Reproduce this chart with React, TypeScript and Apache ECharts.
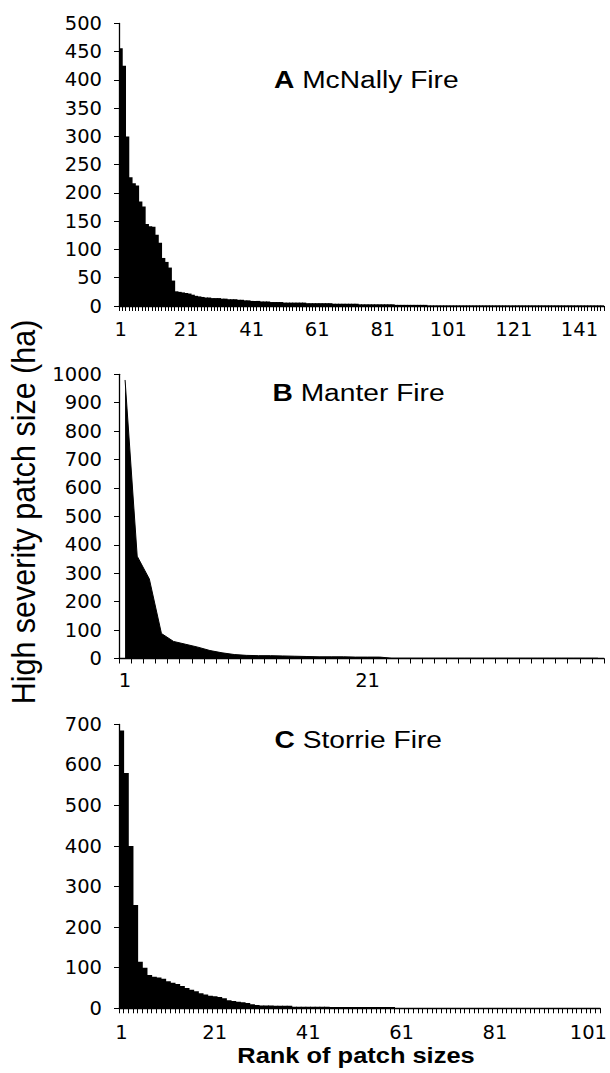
import React, { useEffect, useRef } from "react";
import * as echarts from "echarts";

// A: McNally Fire patch sizes (ha), ranked
const sizesA = [
  456, 425, 300, 228, 217, 213, 185, 176, 145, 141,
  140, 126, 112, 85, 78, 68, 45, 26, 25, 24,
  23, 22, 20, 18, 17, 16, 15, 15, 14, 14,
  14, 13, 13, 12, 12, 12, 11, 11, 10, 10,
  9, 9, 9, 8, 8, 8, 7, 7, 7, 7,
  6, 6, 6, 6, 6, 6, 6, 5, 5, 5,
  5, 5, 5, 5, 5, 4, 4, 4, 4, 4,
  4, 4, 4, 3, 3, 3, 3, 3, 3, 3,
  3, 3, 3, 3, 2, 2, 2, 2, 2, 2,
  2, 2, 2, 2, 1, 1, 1, 1, 1, 1,
  1, 1, 1, 1, 1, 1, 1, 1, 1, 1,
  1, 1, 1, 1, 1, 1, 1, 1, 1, 1,
  1, 1, 1, 1, 1, 1, 1, 1, 1, 1,
  1, 1, 1, 1, 1, 1, 1, 1, 1, 1,
  1, 1, 1, 1, 1, 1, 1, 1,
];

// B: Manter Fire patch sizes (ha), ranked
const sizesB = [
  980, 360, 280, 88, 60, 50, 40, 28, 20, 14,
  11, 10, 10, 9, 8, 7, 6, 6, 6, 5,
  5, 5, 1, 1, 1, 1, 1, 1, 1, 1,
  1, 1, 1, 1, 1, 1, 1, 1, 1, 1,
];

// C: Storrie Fire patch sizes (ha), ranked
const sizesC = [
  685, 580, 400, 255, 115, 100, 82, 78, 76, 73,
  67, 63, 60, 55, 50, 46, 42, 37, 34, 31,
  30, 28, 25, 20, 18, 16, 15, 13, 10, 8,
  7, 7, 7, 6, 6, 6, 6, 4, 4, 4,
  4, 4, 4, 4, 4, 3, 3, 3, 3, 3,
  3, 3, 3, 3, 3, 3, 3, 3, 3, 1,
  1, 1, 1, 1, 1, 1, 1, 1, 1, 1,
  1, 1, 1, 1, 1, 1, 1, 1, 1, 1,
  1, 1, 1, 1, 1, 1, 1, 1, 1, 1,
  1, 1, 1, 1, 1, 1, 1, 1, 1, 1,
  1, 1, 1,
];

const yMaxA = 500;
const yStepA = 50;
const yMaxB = 1000;
const yStepB = 100;
const yMaxC = 700;
const yStepC = 100;

const titles = ["A", "B", "C"];
const fireNames = ["McNally Fire", "Manter Fire", "Storrie Fire"];
const yTitle = "High severity patch size (ha)";
const xTitle = "Rank of patch sizes";

const ranksA = sizesA.map((_, i) => String(i + 1));
const ranksB = sizesB.map((_, i) => String(i + 1));
const ranksC = sizesC.map((_, i) => String(i + 1));

const LABEL_FONT = "DejaVu Sans";
const TEXT_FONT = "Liberation Sans";

function xAxisCfg(gridIndex: number, data: string[], margin: number) {
  return {
    type: "category",
    gridIndex,
    data,
    boundaryGap: true,
    axisLine: { show: true, lineStyle: { color: "#000", width: 1.3 } },
    axisTick: { show: true, interval: 0, length: 5, lineStyle: { color: "#000", width: 1 } },
    axisLabel: { interval: 19, color: "#000", fontFamily: LABEL_FONT, fontSize: 19.5, margin },
    splitLine: { show: false },
  };
}

function yAxisCfg(gridIndex: number, max: number, step: number) {
  return {
    type: "value",
    gridIndex,
    min: 0,
    max,
    interval: step,
    axisLine: { show: true, lineStyle: { color: "#000", width: 1.3 } },
    axisTick: { show: true, length: 5, lineStyle: { color: "#000", width: 1 } },
    axisLabel: {
      color: "#000",
      fontFamily: LABEL_FONT,
      fontSize: 19.5,
      margin: 17,
      formatter: (v: number) => String(v),
    },
    splitLine: { show: false },
  };
}

// Solid column silhouette: each bar drawn through the axes' scales,
// widened by a hair so neighbouring columns merge without seams.
function barRender(params: any, api: any) {
  const idx = api.value(0);
  const v = api.value(1);
  const top = api.coord([idx, v]);
  const base = api.coord([idx, 0]);
  const bw = api.size([1, 0])[0];
  return {
    type: "rect",
    shape: { x: top[0] - bw / 2 - 0.45, y: top[1], width: bw + 0.9, height: base[1] - top[1] },
    style: { fill: "#000" },
  };
}

function titleText(x: number, y: number, letter: string, name: string) {
  return {
    type: "text",
    x,
    y,
    scaleX: 1.15,
    style: {
      text: "{b|" + letter + " }{n|" + name + "}",
      verticalAlign: "middle",
      fill: "#000",
      rich: {
        b: { fontFamily: TEXT_FONT, fontSize: 24.5, fontWeight: "bold", fill: "#000" },
        n: { fontFamily: TEXT_FONT, fontSize: 24.5, fill: "#000" },
      },
    },
  };
}

export default function App() {
  const ref = useRef<HTMLDivElement>(null);
  useEffect(() => {
    if (!ref.current) return;
    const chart = echarts.init(ref.current, null, { renderer: "svg" });
    const L = 119;
    const W = 485;
    chart.setOption({
      animation: false,
      backgroundColor: "#fff",
      grid: [
        { left: L, width: W, top: 23.4, height: 282.6 },
        { left: L, width: W, top: 374.3, height: 284.2 },
        { left: L, width: W, top: 724.4, height: 283.9 },
      ],
      xAxis: [xAxisCfg(0, ranksA, 13), xAxisCfg(1, ranksB, 12), xAxisCfg(2, ranksC, 14)],
      yAxis: [yAxisCfg(0, yMaxA, yStepA), yAxisCfg(1, yMaxB, yStepB), yAxisCfg(2, yMaxC, yStepC)],
      series: [
        {
          type: "custom",
          xAxisIndex: 0,
          yAxisIndex: 0,
          data: sizesA.map((v, i) => [i, v]),
          encode: { x: 0, y: 1 },
          renderItem: barRender,
          clip: true,
        },
        {
          type: "line",
          xAxisIndex: 1,
          yAxisIndex: 1,
          data: sizesB,
          symbol: "none",
          showSymbol: false,
          lineStyle: { color: "#000", width: 1 },
          areaStyle: { color: "#000", opacity: 1 },
        },
        {
          type: "custom",
          xAxisIndex: 2,
          yAxisIndex: 2,
          data: sizesC.map((v, i) => [i, v]),
          encode: { x: 0, y: 1 },
          renderItem: barRender,
          clip: true,
        },
      ],
      graphic: [
        titleText(274, 80, titles[0], fireNames[0]),
        titleText(272.5, 393, titles[1], fireNames[1]),
        titleText(274.5, 740, titles[2], fireNames[2]),
        {
          type: "text",
          x: 23,
          y: 512,
          rotation: Math.PI / 2,
          scaleY: 1.1,
          style: {
            text: yTitle,
            fontFamily: TEXT_FONT,
            fontSize: 30.5,
            fill: "#000",
            align: "center",
            verticalAlign: "middle",
          },
        },
        {
          type: "text",
          x: 356,
          y: 1055,
          scaleX: 1.13,
          style: {
            text: xTitle,
            fontFamily: TEXT_FONT,
            fontSize: 22.5,
            fontWeight: "bold",
            fill: "#000",
            align: "center",
            verticalAlign: "middle",
          },
        },
      ],
    });
    return () => chart.dispose();
  }, []);
  return (
    <div
      ref={ref}
      style={{ position: "absolute", left: 0, top: 0, width: 610, height: 1073 }}
    />
  );
}
